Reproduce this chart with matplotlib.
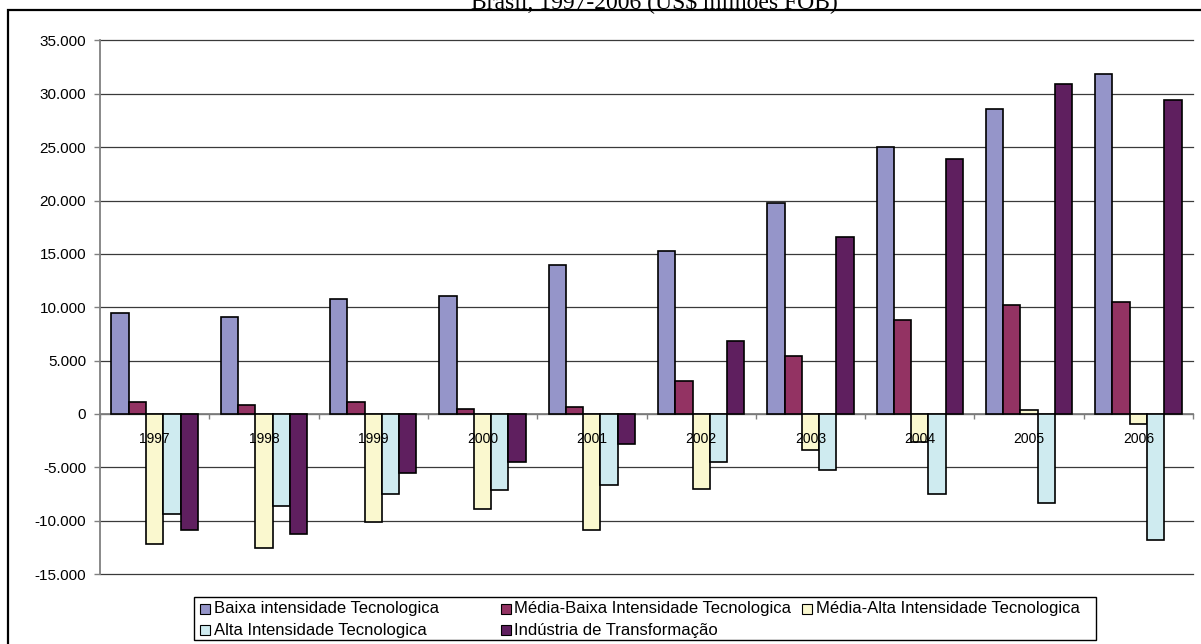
import matplotlib
matplotlib.use("Agg")
import matplotlib.pyplot as plt
from matplotlib.patches import Rectangle
from matplotlib.ticker import FuncFormatter, MultipleLocator, FixedLocator
import numpy as np

years = ["1997", "1998", "1999", "2000", "2001", "2002", "2003", "2004", "2005", "2006"]
series_names = [
    "Baixa intensidade Tecnologica",
    "Média-Baixa Intensidade Tecnologica",
    "Média-Alta Intensidade Tecnologica",
    "Alta Intensidade Tecnologica",
    "Indústria de Transformação",
]
baixa = [9500, 9080, 10820, 11070, 13950, 15300, 19750, 25050, 28600, 31850]
media_baixa = [1150, 880, 1150, 440, 650, 3050, 5400, 8850, 10180, 10480]
media_alta = [-12170, -12560, -10170, -8900, -10850, -7000, -3420, -2600, 350, -960]
alta = [-9400, -8600, -7500, -7150, -6650, -4480, -5250, -7500, -8330, -11800]
industria = [-10850, -11250, -5570, -4480, -2830, 6830, 16600, 23900, 30900, 29450]
colors = ["#9595C9", "#933363", "#FAF8CF", "#CFEBF0", "#5F1F5F"]
title = "Brasil, 1997-2006 (US\\$ milhões FOB)"

W, H = 1201, 644
fig = plt.figure(figsize=(W / 100, H / 100), dpi=100)

def fx(x):
    return x / W

def fy(y):
    return 1 - y / H

# axes placement (pixels)
left, right, top, bottom = 100, 1193, 40.5, 574
ax = fig.add_axes([fx(left), fy(bottom), fx(right) - fx(left), fy(top) - fy(bottom)])

data = [baixa, media_baixa, media_alta, alta, industria]
x = np.arange(len(years))
w = 0.158
for j, (vals, c) in enumerate(zip(data, colors)):
    ax.bar(x + (j - 2) * w, vals, width=w, color=c, edgecolor="black",
           linewidth=1.2, zorder=3)

ax.set_xlim(-0.5, len(years) - 0.5)
ax.set_ylim(-15000, 35000)
ax.yaxis.set_major_locator(MultipleLocator(5000))

def fmt(v, pos):
    v = int(round(v))
    if v == 0:
        return "0"
    s = f"{abs(v):,}".replace(",", ".")
    return ("-" if v < 0 else "") + s

ax.yaxis.set_major_formatter(FuncFormatter(fmt))
ax.grid(axis="y", color="#3a3a3a", linewidth=0.9, zorder=0)
ax.set_axisbelow(True)
for gl in ax.get_ygridlines():
    gl.set_clip_on(False)
ax.get_ygridlines()[0].set_color("#808080")

for s in ["top", "right"]:
    ax.spines[s].set_visible(False)
ax.spines["left"].set_color("#808080")
ax.spines["left"].set_linewidth(1.3)
ax.spines["bottom"].set_position(("data", 0))
ax.spines["bottom"].set_color("#808080")
ax.spines["bottom"].set_linewidth(1.3)
ax.spines["bottom"].set_zorder(2)

ax.tick_params(axis="y", direction="out", length=4, width=1, color="#808080",
               labelsize=11, pad=6)
ax.set_xticks(x)
ax.set_xticklabels(years)
ax.tick_params(axis="x", which="major", length=0, labelsize=10, pad=13)
ax.xaxis.set_minor_locator(FixedLocator(np.arange(-0.5, len(years), 1.0)))
ax.tick_params(axis="x", which="minor", direction="out", length=3.5, width=1,
               color="#808080")
for lab in ax.get_xticklabels() + ax.get_yticklabels():
    lab.set_fontfamily("Liberation Sans")
ax.xaxis.set_zorder(5)

# outer chart border (extends beyond right/bottom edges)
fig.add_artist(Rectangle((fx(8), fy(700)), fx(1250) - fx(8), fy(10) - fy(700),
                         transform=fig.transFigure, fill=False,
                         edgecolor="black", linewidth=1.6))

# title (partially cut off at top, as in the reference)
fig.text(fx(654), fy(8), title, ha="center", va="baseline",
         fontsize=17, family="Liberation Serif")

# legend (manual, equal-width columns like Excel)
fig.add_artist(Rectangle((fx(194), fy(640)), fx(1096) - fx(194), fy(597) - fy(640),
                         transform=fig.transFigure, fill=False,
                         edgecolor="black", linewidth=1.0))
col_x = [199.5, 500.5, 801.5]
row_y = [608.5, 630]
for i, (name, c) in enumerate(zip(series_names, colors)):
    r, cidx = divmod(i, 3)
    mx, my = col_x[cidx], row_y[r]
    fig.add_artist(Rectangle((fx(mx), fy(my + 5)), fx(10), 10 / H,
                             transform=fig.transFigure, facecolor=c,
                             edgecolor="black", linewidth=0.8))
    fig.text(fx(mx + 14), fy(my), name, ha="left", va="center",
             fontsize=12, family="Liberation Sans")

fig.savefig("out.png", dpi=100)
